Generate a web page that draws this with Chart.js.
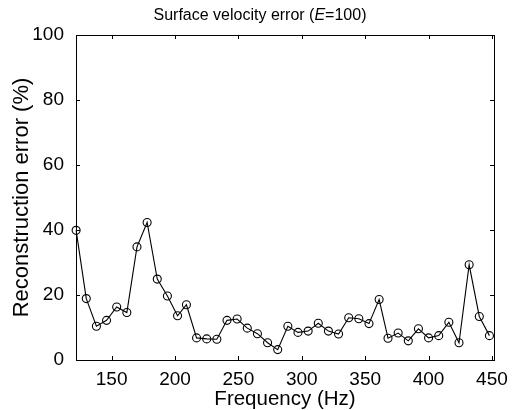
<!DOCTYPE html>
<html>
<head>
<meta charset="utf-8">
<script src="https://cdn.jsdelivr.net/npm/chart.js@4.4.1/dist/chart.umd.min.js"></script>
<style>
  html, body { margin: 0; padding: 0; background: #fff; }
</style>
</head>
<body>
<canvas id="err" width="515" height="410"></canvas>
<script>
// one point every ~8 Hz
const freqHz = [122, 130, 138, 146, 154, 162, 170, 178, 186, 194, 202, 209, 217, 225,
  233, 241, 249, 257, 265, 273, 281, 289, 297, 305, 313, 321, 329, 337,
  345, 353, 361, 368, 376, 384, 392, 400, 408, 416, 424, 432, 440, 448];
const errPct = [39.9, 18.9, 10.4, 12.2, 16.3, 14.6, 34.8, 42.3, 24.9, 19.7, 13.6, 17.0, 6.8, 6.5,
  6.4, 12.2, 12.6, 9.8, 8.1, 5.3, 3.2, 10.4, 8.5, 8.9, 11.3, 8.9, 8.0, 13.0,
  12.7, 11.2, 18.6, 6.7, 8.3, 5.9, 9.6, 6.8, 7.5, 11.6, 5.3, 29.3, 13.4, 7.5];
const xTicks = [150, 200, 250, 300, 350, 400, 450];
const yTicks = [0, 20, 40, 60, 80, 100];

const FONT = 'Arial, "Liberation Sans", Helvetica, sans-serif';

// matlab-ish box with inward ticks on all four sides
const boxTicks = {
  id: 'boxTicks',
  beforeDatasetsDraw(chart) {
    const {ctx, chartArea: a, scales: {x, y}} = chart;
    ctx.save();
    ctx.strokeStyle = '#000';
    ctx.lineWidth = 1;
    ctx.strokeRect(a.left + 0.5, a.top + 0.5, a.right - a.left, a.bottom - a.top);
    ctx.beginPath();
    xTicks.forEach(v => {
      const px = Math.round(x.getPixelForValue(v)) + 0.5;
      ctx.moveTo(px, a.bottom); ctx.lineTo(px, a.bottom - 4);
      ctx.moveTo(px, a.top); ctx.lineTo(px, a.top + 4);
    });
    yTicks.forEach(v => {
      const py = Math.round(y.getPixelForValue(v)) + 0.5;
      ctx.moveTo(a.left, py); ctx.lineTo(a.left + 4, py);
      ctx.moveTo(a.right, py); ctx.lineTo(a.right - 4, py);
    });
    ctx.stroke();
    ctx.restore();
  }
};

// title with italic E
const titleE = {
  id: 'titleE',
  afterDraw(chart) {
    const ctx = chart.ctx;
    const parts = [
      ['Surface velocity error (', 'normal'],
      ['E', 'italic'],
      ['=100)', 'normal']
    ];
    ctx.save();
    ctx.fillStyle = '#000';
    ctx.textBaseline = 'alphabetic';
    let total = 0;
    parts.forEach(p => { ctx.font = p[1] + ' 16px ' + FONT; total += ctx.measureText(p[0]).width; });
    let x = 260 - total / 2;
    parts.forEach(p => {
      ctx.font = p[1] + ' 16px ' + FONT;
      ctx.fillText(p[0], x, 20);
      x += ctx.measureText(p[0]).width;
    });
    ctx.restore();
  }
};

new Chart(document.getElementById('err'), {
  type: 'scatter',
  data: {
    datasets: [{
      data: freqHz.map((f, i) => ({x: f, y: errPct[i]})),
      showLine: true,
      borderColor: '#000',
      borderWidth: 1.1,
      pointRadius: 4,
      pointBorderWidth: 1.1,
      pointBorderColor: '#000',
      pointBackgroundColor: 'rgba(0,0,0,0)',
      clip: false
    }]
  },
  options: {
    responsive: false,
    animation: false,
    devicePixelRatio: 1,
    layout: {padding: {top: 35, right: 21, bottom: 0, left: 0}},
    plugins: {legend: {display: false}, tooltip: {enabled: false}},
    scales: {
      x: {
        type: 'linear',
        min: 121.9,
        max: 451.6,
        afterFit(s) { s.height = 50; },
        grid: {display: false},
        border: {display: false},
        ticks: {stepSize: 50, includeBounds: false, maxRotation: 0, padding: 0,
          color: '#000', font: {family: FONT, size: 19}},
        title: {display: true, text: 'Frequency (Hz)', color: '#000',
          font: {family: FONT, size: 20.5}, padding: {top: 0, bottom: -2}}
      },
      y: {
        min: 0,
        max: 100,
        afterFit(s) { s.width = 76; },
        grid: {display: false},
        border: {display: false},
        ticks: {stepSize: 20, padding: 4, color: '#000', font: {family: FONT, size: 19}},
        title: {display: true, text: 'Reconstruction error (%)', color: '#000',
          font: {family: FONT, size: 22}, padding: {top: 9, bottom: 0}}
      }
    }
  },
  plugins: [boxTicks, titleE]
});
</script>
</body>
</html>
